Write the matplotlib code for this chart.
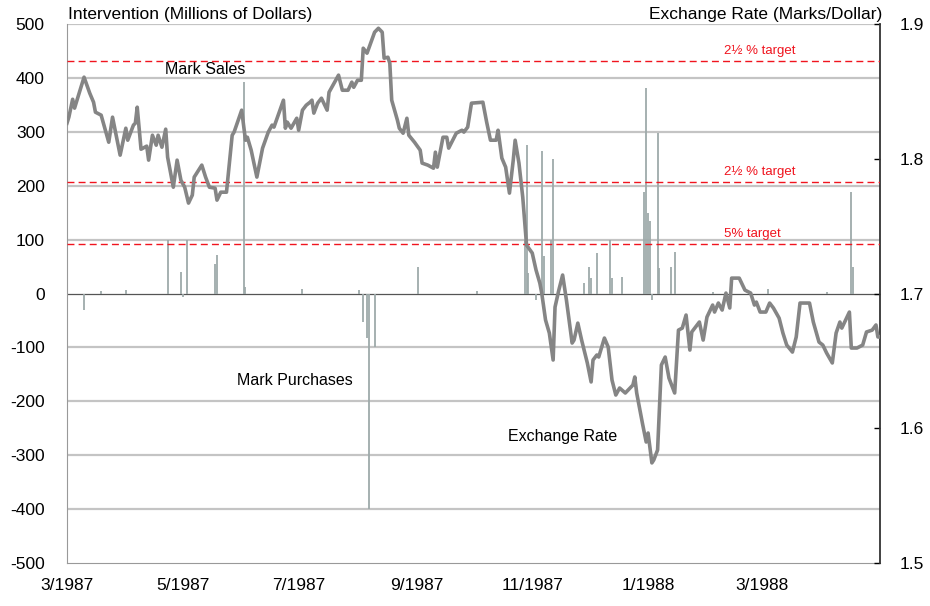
import numpy as np
import matplotlib.pyplot as plt

plt.rcParams['font.family'] = ['Liberation Sans', 'DejaVu Sans']
plt.rcParams['axes.unicode_minus'] = False

start = np.datetime64('1987-03-01')

# exchange rate, marks per dollar (days since 3/1/1987)
rate_days = [0, 1, 3, 4, 9, 12, 14, 15, 18, 22, 24, 28, 31, 32, 35, 36, 37, 39, 42, 43,
             45, 47, 48, 50, 52, 53, 56, 58, 60, 62, 64, 66, 67, 71, 73, 75, 78, 79, 81, 84,
             87, 88, 92, 94, 95, 97, 100, 103, 106, 108, 109, 114, 115, 116, 118, 121, 122, 124, 126, 128,
             129, 130, 132, 134, 137, 138, 143, 145, 148, 150, 151, 153, 155, 156, 158, 162, 164, 166, 167, 169,
             170, 171, 174, 175, 177, 179, 180, 183, 186, 187, 190, 193, 194, 195, 198, 200, 201, 205, 208, 209,
             211, 213, 219, 221, 223, 226, 227, 229, 231, 233, 235, 236, 238, 240, 242, 245, 247, 249, 250, 252,
             254, 256, 257, 259, 261, 263, 266, 267, 269, 271, 274, 276, 277, 279, 280, 283, 285, 287, 289, 291,
             294, 298, 299, 300, 303, 305, 306, 308, 309, 311, 313, 315, 317, 320, 322, 324, 326, 328, 329, 333,
             335, 337, 340, 341, 343, 345, 347, 349, 350, 354, 357, 360, 362, 363, 365, 368, 370, 372, 375, 377,
             379, 382, 384, 386, 387, 391, 393, 396, 398, 400, 403, 405, 407, 408, 412, 413, 416, 419, 421, 424,
             426, 427, 428]
rate_values = [1.8265, 1.8310, 1.8443, 1.8377, 1.8607, 1.8488, 1.8421, 1.8347, 1.8325, 1.8124,
               1.8310, 1.8028, 1.8228, 1.8139, 1.8251, 1.8265, 1.8384, 1.8072, 1.8095, 1.7991,
               1.8176, 1.8102, 1.8176, 1.8087, 1.8221, 1.8013, 1.7790, 1.7991, 1.7842, 1.7790,
               1.7672, 1.7731, 1.7865, 1.7954, 1.7865, 1.7790, 1.7783, 1.7694, 1.7753, 1.7753,
               1.8176, 1.8199, 1.8362, 1.8139, 1.8161, 1.8065, 1.7865, 1.8080, 1.8199, 1.8251,
               1.8236, 1.8436, 1.8228, 1.8273, 1.8228, 1.8302, 1.8213, 1.8362, 1.8399, 1.8421,
               1.8436, 1.8340, 1.8414, 1.8451, 1.8362, 1.8495, 1.8622, 1.8510, 1.8510, 1.8570,
               1.8532, 1.8584, 1.8584, 1.8822, 1.8785, 1.8941, 1.8970, 1.8941, 1.8748, 1.8755,
               1.8711, 1.8436, 1.8288, 1.8228, 1.8191, 1.8302, 1.8176, 1.8124, 1.8065, 1.7969,
               1.7954, 1.7931, 1.8050, 1.7939, 1.8161, 1.8161, 1.8080, 1.8191, 1.8213, 1.8199,
               1.8236, 1.8414, 1.8421, 1.8273, 1.8139, 1.8139, 1.8213, 1.8006, 1.7939, 1.7746,
               1.7991, 1.8139, 1.7969, 1.7716, 1.7360, 1.7301, 1.7175, 1.7078, 1.7004, 1.6804,
               1.6707, 1.6507, 1.6900, 1.7026, 1.7138, 1.6952, 1.6633, 1.6655, 1.6781, 1.6655,
               1.6485, 1.6344, 1.6507, 1.6544, 1.6529, 1.6670, 1.6603, 1.6358, 1.6247, 1.6299,
               1.6262, 1.6321, 1.6381, 1.6262, 1.6039, 1.5898, 1.5965, 1.5743, 1.5765, 1.5839,
               1.6470, 1.6529, 1.6373, 1.6262, 1.6729, 1.6744, 1.6841, 1.6581, 1.6715, 1.6789,
               1.6655, 1.6826, 1.6915, 1.6863, 1.6930, 1.6878, 1.7004, 1.6893, 1.7115, 1.7115,
               1.7026, 1.7004, 1.6915, 1.6937, 1.6863, 1.6863, 1.6930, 1.6893, 1.6818, 1.6707,
               1.6618, 1.6566, 1.6678, 1.6930, 1.6930, 1.6930, 1.6789, 1.6640, 1.6618, 1.6559,
               1.6485, 1.6707, 1.6789, 1.6744, 1.6863, 1.6596, 1.6596, 1.6618, 1.6715, 1.6729,
               1.6767, 1.6678, 1.6678]

# intervention, millions of dollars (+ mark sales, - mark purchases)
bar_days = [9, 18, 31, 53, 60, 61, 63, 78, 79, 93, 94, 124, 154, 156, 158, 159, 162, 185, 216,
            241, 242, 243, 247, 250, 251, 255, 256, 272, 275, 276, 279, 286, 287, 292,
            304, 305, 306, 307, 308, 311, 312, 318, 320, 340, 369, 400, 413, 414]
bar_values = [-30, 5, 6, 100, 40, -6, 100, 55, 72, 393, 12, 9, 6, -52, -82, -400, -100, 50, 5,
              100, 275, 39, -11, 265, 69, 100, 250, 20, 50, 29, 75, 100, 29, 30,
              189, 382, 150, 134, -11, 299, 48, 50, 78, 3, 9, 3, 189, 50]

target_rates = [1.8725, 1.7828, 1.7368]
target_labels = ['2½ % target', '2½ % target', '5% target']

tick_months = ['1987-03-01', '1987-05-01', '1987-07-01', '1987-09-01',
               '1987-11-01', '1988-01-01', '1988-03-01']
tick_labels = ['3/1987', '5/1987', '7/1987', '9/1987', '11/1987', '1/1988', '3/1988']

rate_dates = start + np.array(rate_days).astype('timedelta64[D]')
bar_dates = start + np.array(bar_days).astype('timedelta64[D]')

fig, ax = plt.subplots(figsize=(9.3, 6.06), dpi=100)
fig.subplots_adjust(left=0.072, right=0.946, top=0.960, bottom=0.071)

for v in range(-400, 501, 100):
    if v != 0:
        ax.axhline(v, color='#c4c4c4', linewidth=1.6, zorder=1)
ax.axhline(0, color='#555555', linewidth=0.9, zorder=1)

ax.vlines(bar_dates, 0, bar_values, color='#9eaaaa', linewidth=1.3, zorder=2)

ax.set_ylim(-500, 500)
ax.set_yticks(range(-500, 501, 100))
ax.set_xlim(start, start + np.timedelta64(428, 'D'))
ax.set_xticks(np.array(tick_months, dtype='datetime64[D]'))
ax.set_xticklabels(tick_labels)
ax.tick_params(axis='both', length=0, labelsize=12.5)
ax.tick_params(axis='y', pad=16)
ax.tick_params(axis='x', pad=11)
for s in ['top', 'right']:
    ax.spines[s].set_visible(False)
ax.spines['left'].set_color('#999999')
ax.spines['bottom'].set_color('#999999')

ax.text(start + np.timedelta64(73, 'D'), 416, 'Mark Sales', ha='center', va='center', fontsize=11.5)
ax.text(start + np.timedelta64(120, 'D'), -161, 'Mark Purchases', ha='center', va='center', fontsize=11.5)
ax.text(start + np.timedelta64(261, 'D'), -266, 'Exchange Rate', ha='center', va='center', fontsize=11.5)

ax2 = ax.twinx()
ax2.set_ylim(1.5, 1.9)
ax2.set_yticks([1.5, 1.6, 1.7, 1.8, 1.9])
ax2.set_yticklabels(['1.5', '1.6', '1.7', '1.8', '1.9'])
ax2.tick_params(axis='y', direction='in', length=4, width=1, labelsize=12.5, pad=14)
for s in ['top', 'left', 'bottom']:
    ax2.spines[s].set_visible(False)
ax2.spines['right'].set_color('#333333')
ax2.spines['right'].set_linewidth(1.3)

for r, lab in zip(target_rates, target_labels):
    ax2.axhline(r, color='#f0141e', linestyle=(0, (5, 3)), linewidth=1.0, zorder=3)
    ax2.text(start + np.timedelta64(346, 'D'), r + 0.003, lab, color='#f0141e',
             ha='left', va='bottom', fontsize=9.5)

ax2.plot(rate_dates, rate_values, color='#858585', linewidth=2.6, zorder=4)

fig.text(68 / 930, 1 - 15 / 606, 'Intervention (Millions of Dollars)', ha='left', va='center', fontsize=12.5)
fig.text(882 / 930, 1 - 15 / 606, 'Exchange Rate (Marks/Dollar)', ha='right', va='center', fontsize=12.5)

fig.savefig('out.png', dpi=100)
